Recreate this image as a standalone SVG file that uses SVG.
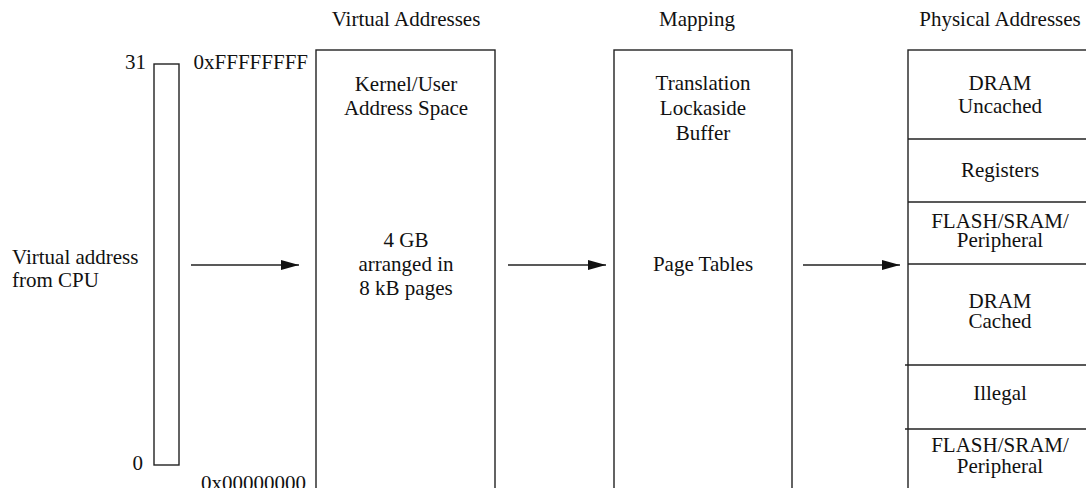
<svg xmlns="http://www.w3.org/2000/svg" width="1086" height="488" viewBox="0 0 1086 488">
<style>
text{font-family:'Liberation Serif','DejaVu Serif',serif;font-size:21px;fill:#111}
.c{text-anchor:middle}
.r{text-anchor:end}
.box{fill:none;stroke:#222;stroke-width:1.4}
.ln{stroke:#222;stroke-width:1.4;fill:none}
</style>
<defs>
<marker id="ah" markerUnits="userSpaceOnUse" markerWidth="20" markerHeight="12" refX="18" refY="5" orient="auto">
<polygon points="0,0 18,5 0,10" fill="#111"/>
</marker>
</defs>
<g id="titles" font-family="Liberation Serif">
<text class="c" x="406" y="26">Virtual Addresses</text>
<text class="c" x="697" y="26">Mapping</text>
<text class="c" x="1000" y="26">Physical Addresses</text>
</g>
<g id="cpu" font-family="Liberation Serif">
<rect class="box" x="154" y="64" width="25" height="401"/>
<text class="r" x="146" y="69">31</text>
<text class="r" x="143" y="470">0</text>
<text x="12" y="264">Virtual address</text>
<text x="12" y="287">from CPU</text>
</g>
<g id="virtual" font-family="Liberation Serif">
<rect class="box" x="316" y="50" width="179" height="460"/>
<text class="r" x="308" y="69">0xFFFFFFFF</text>
<text class="r" x="306" y="490">0x00000000</text>
<text class="c" x="406" y="91">Kernel/User</text>
<text class="c" x="406" y="115">Address Space</text>
<text class="c" x="406" y="247">4 GB</text>
<text class="c" x="406" y="271">arranged in</text>
<text class="c" x="406" y="295">8 kB pages</text>
</g>
<g id="mapping" font-family="Liberation Serif">
<rect class="box" x="614" y="50" width="178" height="460"/>
<text class="c" x="703" y="90">Translation</text>
<text class="c" x="703" y="115">Lockaside</text>
<text class="c" x="703" y="140">Buffer</text>
<text class="c" x="703" y="271">Page Tables</text>
</g>
<g id="physical" font-family="Liberation Serif">
<rect class="box" x="908" y="50" width="184" height="460"/>
<line class="ln" x1="908" y1="139" x2="1092" y2="139"/>
<line class="ln" x1="908" y1="202" x2="1092" y2="202"/>
<line class="ln" x1="908" y1="264" x2="1092" y2="264"/>
<line class="ln" x1="905" y1="365" x2="1092" y2="365"/>
<line class="ln" x1="905" y1="429" x2="1092" y2="429"/>
<text class="c" x="1000" y="90">DRAM</text>
<text class="c" x="1000" y="113">Uncached</text>
<text class="c" x="1000" y="177">Registers</text>
<text class="c" x="1000" y="228">FLASH/SRAM/</text>
<text class="c" x="1000" y="247">Peripheral</text>
<text class="c" x="1000" y="308">DRAM</text>
<text class="c" x="1000" y="328">Cached</text>
<text class="c" x="1000" y="400">Illegal</text>
<text class="c" x="1000" y="452">FLASH/SRAM/</text>
<text class="c" x="1000" y="473">Peripheral</text>
</g>
<g id="connectors">
<line class="ln" x1="191" y1="265" x2="299" y2="265" marker-end="url(#ah)"/>
<line class="ln" x1="508" y1="265" x2="606" y2="265" marker-end="url(#ah)"/>
<line class="ln" x1="803" y1="265" x2="900" y2="265" marker-end="url(#ah)"/>
</g>
</svg>
